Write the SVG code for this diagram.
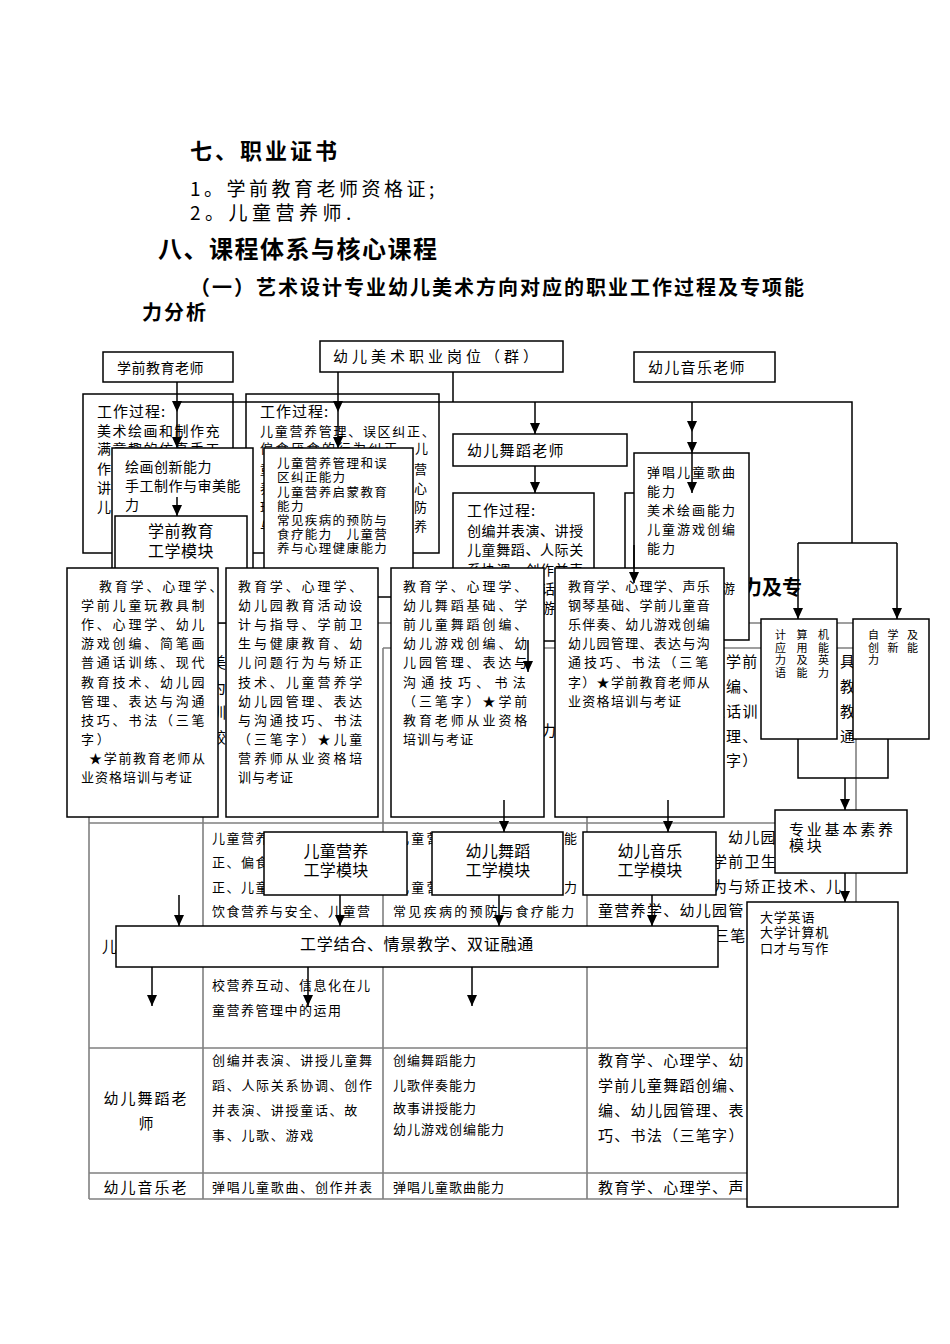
<svg xmlns="http://www.w3.org/2000/svg" width="950" height="1344" viewBox="0 0 950 1344">
<defs>
<style>
text{font-family:"Noto Sans CJK SC","Noto Sans CJK JP",sans-serif;fill:#000}
.h{font-weight:bold}
.b{fill:#fff;stroke:#000;stroke-width:1.5}
.tl{fill:none;stroke:#808080;stroke-width:1.6}
.c{fill:none;stroke:#000;stroke-width:1.5}
.a{marker-end:url(#ah)}
.d{marker-mid:url(#ah);marker-end:url(#ah)}
.f11{font-size:11px}
.f13{font-size:13px}
.f14{font-size:14px}
.f15{font-size:15px}
.f16{font-size:16px}
.m{text-anchor:middle}
</style>
<marker id="ah" markerUnits="userSpaceOnUse" markerWidth="10" markerHeight="11" viewBox="0 0 10 11" refX="5" refY="11" orient="0">
<path d="M0,0 L10,0 L5,11 z" fill="#000"/>
</marker>
</defs>
<rect width="950" height="1344" fill="#fff"/>

<g id="headings">
<text class="h" x="190" y="159" font-size="22" letter-spacing="3">七、职业证书</text>
<text x="190" y="196" font-size="19" letter-spacing="3.5">1。学前教育老师资格证;</text>
<text x="190" y="220" font-size="19" letter-spacing="4.5">2。儿童营养师.</text>
<text class="h" x="158" y="258" font-size="24" letter-spacing="1.5">八、课程体系与核心课程</text>
<text class="h" x="190" y="295" font-size="20" letter-spacing="2">（一）艺术设计专业幼儿美术方向对应的职业工作过程及专项能</text>
<text class="h" x="142" y="320" font-size="20" letter-spacing="2">力分析</text>
</g>

<g id="table">
<path class="tl" d="M89,623 H856 M383,648 H856 M89,823 H856 M89,1048 H856 M89,1173 H856 M89,1199 H856 M89,623 V1199 M203,648 V1199 M383,648 V1199 M587,648 V1199 M856,623 V1199"/>
<text class="h" x="742" y="595" font-size="20">力及专</text>
<g class="f15">
<text x="211" y="668">美</text><text x="211" y="693">为</text><text x="211" y="718">训</text><text x="211" y="743">较</text>
<text x="541" y="736">力</text>
<text x="726" y="667" letter-spacing="1.3">学前</text>
<text x="726" y="692" letter-spacing="1.3">编、</text>
<text x="710" y="717" letter-spacing="1.3">通话训</text>
<text x="726" y="742" letter-spacing="1.3">理、</text>
<text x="726" y="766" letter-spacing="1.3">字）</text>
<text x="840" y="667">具</text><text x="840" y="692">教</text><text x="840" y="717">教</text><text x="840" y="742">通</text>
<text x="102" y="952">儿</text>
</g>
<g class="f13" letter-spacing="1.5">
<text x="212" y="843">儿童营养</text>
<text x="212" y="867">正、偏食</text>
<text x="212" y="892">正、儿童营</text>
<text x="212" y="916">饮食营养与安全、儿童营</text>
<text x="212" y="990">校营养互动、信息化在儿</text>
<text x="212" y="1015">童营养管理中的运用</text>
</g>
<g class="f13" letter-spacing="2.3">
<text x="396" y="843">儿童营</text>
<text x="564" y="843">能</text>
<text x="396" y="892">儿童营</text>
<text x="564" y="892">力</text>
<text x="393" y="916">常见疾病的预防与食疗能力</text>
</g>
<g class="f15" letter-spacing="1.3">
<text x="728" y="843">幼儿园</text>
<text x="712" y="867">学前卫生</text>
<text x="712" y="892">为与矫正技术、儿</text>
<text x="598" y="916">童营养学、幼儿园管</text>
<text x="714" y="941">三笔</text>
</g>
<g class="f15">
<text class="m" x="146" y="1104" letter-spacing="2">幼儿舞蹈老</text>
<text class="m" x="146" y="1129">师</text>
<text class="m" x="146" y="1193" letter-spacing="2">幼儿音乐老</text>
</g>
<g class="f13" letter-spacing="1.7">
<text x="212" y="1065">创编并表演、讲授儿童舞</text>
<text x="212" y="1090">蹈、人际关系协调、创作</text>
<text x="212" y="1115">并表演、讲授童话、故</text>
<text x="212" y="1140">事、儿歌、游戏</text>
<text x="212" y="1192">弹唱儿童歌曲、创作并表</text>
</g>
<g class="f13" letter-spacing="1">
<text x="393" y="1065">创编舞蹈能力</text>
<text x="393" y="1090">儿歌伴奏能力</text>
<text x="393" y="1113">故事讲授能力</text>
<text x="393" y="1134">幼儿游戏创编能力</text>
<text x="393" y="1192">弹唱儿童歌曲能力</text>
</g>
<g class="f15" letter-spacing="1.3">
<text x="598" y="1066">教育学、心理学、幼</text>
<text x="598" y="1091">学前儿童舞蹈创编、</text>
<text x="598" y="1116">编、幼儿园管理、表</text>
<text x="598" y="1141">巧、书法（三笔字）</text>
<text x="598" y="1193">教育学、心理学、声</text>
</g>
</g>

<g id="n-xueqian-teacher">
<rect class="b" x="103" y="352" width="130" height="30"/>
<text class="f14" x="117" y="373" letter-spacing="0.5">学前教育老师</text>
</g>
<g id="n-job-group">
<rect class="b" x="320" y="341" width="243" height="31"/>
<text class="f15" x="333" y="362" letter-spacing="4">幼儿美术职业岗位（群）</text>
</g>
<g id="n-music-teacher">
<rect class="b" x="634" y="352" width="141" height="30"/>
<text class="f15" x="648" y="373" letter-spacing="1.3">幼儿音乐老师</text>
</g>

<g id="n-work-xueqian">
<rect class="b" x="83" y="394" width="150" height="159"/>
<text class="f15" x="97" y="417" letter-spacing="1">工作过程:</text>
<g class="f14" letter-spacing="1.5">
<text x="97" y="436">美术绘画和制作充</text>
<text x="97" y="454">满童趣的仿真手工</text>
<text x="97" y="474">作</text>
<text x="97" y="493">讲</text>
<text x="97" y="512">儿</text>
</g>
</g>
<g id="n-work-nutrition">
<rect class="b" x="246" y="394" width="193" height="159"/>
<text class="f15" x="260" y="417" letter-spacing="1">工作过程:</text>
<g class="f13">
<text x="260" y="436" letter-spacing="1.7">儿童营养管理、误区纠正、</text>
<text x="260" y="453" letter-spacing="2.5">偏食厌食的行为纠正、儿</text>
<text x="260" y="474">童</text><text x="260" y="493">养</text><text x="260" y="512">理</text><text x="260" y="531">与</text>
<text x="414" y="474">营</text><text x="414" y="493">心</text><text x="414" y="512">防</text><text x="414" y="531">养</text>
</g>
</g>
<g id="n-dance-teacher">
<rect class="b" x="453" y="434" width="174" height="32"/>
<text class="f15" x="467" y="456" letter-spacing="1.3">幼儿舞蹈老师</text>
</g>
<g id="n-work-dance">
<rect class="b" x="453" y="493" width="141" height="148"/>
<text class="f15" x="467" y="516" letter-spacing="1">工作过程:</text>
<g class="f14" letter-spacing="0.6">
<text x="467" y="536">创编并表演、讲授</text>
<text x="467" y="555">儿童舞蹈、人际关</text>
<text x="467" y="575">系协调、创作并表</text>
<text x="541" y="594">话</text>
<text x="541" y="613">游</text>
</g>
</g>
<g id="n-work-music">
<rect class="b" x="625" y="493" width="80" height="147"/>
</g>
<g id="n-music-ability">
<rect class="b" x="634" y="453" width="115" height="187"/>
<g class="f13" letter-spacing="2">
<text x="647" y="477">弹唱儿童歌曲</text>
<text x="647" y="496">能力</text>
<text x="647" y="515">美术绘画能力</text>
<text x="647" y="534">儿童游戏创编</text>
<text x="647" y="553">能力</text>
<text x="722" y="593">游</text>
</g>
</g>

<g id="n-ability-xueqian">
<rect class="b" x="112" y="448" width="141" height="149"/>
<g class="f14" letter-spacing="0.5">
<text x="125" y="472">绘画创新能力</text>
<text x="125" y="491">手工制作与审美能</text>
<text x="125" y="510">力</text>
</g>
</g>
<g id="n-ability-nutrition">
<rect class="b" x="264" y="448" width="149" height="149"/>
<g font-size="12.5" letter-spacing="1.4">
<text x="277" y="468">儿童营养管理和误</text>
<text x="277" y="482">区纠正能力</text>
<text x="277" y="497">儿童营养启蒙教育</text>
<text x="277" y="511">能力</text>
<text x="277" y="525">常见疾病的预防与</text>
<text x="277" y="539">食疗能力　儿童营</text>
<text x="277" y="553">养与心理健康能力</text>
</g>
</g>
<g id="n-module-xueqian">
<rect class="b" x="115" y="516" width="132" height="107"/>
<text class="f16 m" x="181" y="537" letter-spacing="0.5">学前教育</text>
<text class="f16 m" x="181" y="557" letter-spacing="0.5">工学模块</text>
</g>

<g id="n-course-a">
<rect class="b" x="67" y="568" width="151" height="249"/>
<g class="f13" letter-spacing="2.8">
<text x="99" y="591">教育学、心理学、</text>
<text x="81" y="610">学前儿童玩教具制</text>
<text x="81" y="629">作、心理学、幼儿</text>
<text x="81" y="648">游戏创编、简笔画</text>
<text x="81" y="667">普通话训练、现代</text>
<text x="81" y="687">教育技术、幼儿园</text>
<text x="81" y="706">管理、表达与沟通</text>
<text x="81" y="725">技巧、书法（三笔</text>
<text x="81" y="744">字）</text>
<text x="89" y="763" letter-spacing="1.7">★学前教育老师从</text>
<text x="81" y="782" letter-spacing="1">业资格培训与考证</text>
</g>
</g>
<g id="n-course-b">
<rect class="b" x="226" y="568" width="152" height="249"/>
<g class="f13" letter-spacing="2.9">
<text x="238" y="591">教育学、心理学、</text>
<text x="238" y="610">幼儿园教育活动设</text>
<text x="238" y="629">计与指导、学前卫</text>
<text x="238" y="648">生与健康教育、幼</text>
<text x="238" y="667">儿问题行为与矫正</text>
<text x="238" y="687">技术、儿童营养学</text>
<text x="238" y="706">幼儿园管理、表达</text>
<text x="238" y="725">与沟通技巧、书法</text>
<text x="238" y="744">（三笔字）★儿童</text>
<text x="238" y="763">营养师从业资格培</text>
<text x="238" y="782" letter-spacing="1">训与考证</text>
</g>
</g>
<g id="n-course-c">
<rect class="b" x="391" y="568" width="153" height="249"/>
<g class="f13" letter-spacing="2.9">
<text x="403" y="591">教育学、心理学、</text>
<text x="403" y="610">幼儿舞蹈基础、学</text>
<text x="403" y="629">前儿童舞蹈创编、</text>
<text x="403" y="648">幼儿游戏创编、幼</text>
<text x="403" y="667">儿园管理、表达与</text>
<text x="403" y="687" letter-spacing="5.3">沟通技巧、书法</text>
<text x="403" y="706">（三笔字）★学前</text>
<text x="403" y="725">教育老师从业资格</text>
<text x="403" y="744" letter-spacing="1.3">培训与考证</text>
</g>
</g>
<g id="n-course-d">
<rect class="b" x="555" y="568" width="169" height="249"/>
<g class="f13" letter-spacing="1.3">
<text x="568" y="591">教育学、心理学、声乐</text>
<text x="568" y="610">钢琴基础、学前儿童音</text>
<text x="568" y="629">乐伴奏、幼儿游戏创编</text>
<text x="568" y="648">幼儿园管理、表达与沟</text>
<text x="568" y="667" letter-spacing="2.9">通技巧、书法（三笔</text>
<text x="568" y="687">字）★学前教育老师从</text>
<text x="568" y="706">业资格培训与考证</text>
</g>
</g>

<g id="n-computer">
<rect class="b" x="761" y="619" width="76" height="120"/>
<g class="f11" letter-spacing="10.5">
<text x="775" y="639">计算机</text>
<text x="775" y="651.5">应用能</text>
<text x="775" y="664">力及英</text>
<text x="775" y="676.5">语能力</text>
</g>
</g>
<g id="n-selfstudy">
<rect class="b" x="853" y="619" width="76" height="120"/>
<g class="f11" letter-spacing="8.5">
<text x="868" y="639">自学及</text>
<text x="868" y="651.5">创新能</text>
<text x="868" y="664">力</text>
</g>
</g>
<g id="n-basic-module">
<rect class="b" x="775" y="810" width="132" height="63"/>
<text class="f15" x="789" y="835" letter-spacing="2.8">专业基本素养</text>
<text class="f15" x="789" y="851" letter-spacing="2.8">模块</text>
</g>
<g id="n-basic-courses">
<rect class="b" x="747" y="902" width="151" height="305"/>
<g class="f13" letter-spacing="0.8">
<text x="760" y="922">大学英语</text>
<text x="760" y="937">大学计算机</text>
<text x="760" y="953">口才与写作</text>
</g>
</g>

<g id="n-module-nutrition">
<rect class="b" x="264" y="832" width="143" height="63"/>
<text class="f16 m" x="336" y="857" letter-spacing="0.3">儿童营养</text>
<text class="f16 m" x="336" y="876" letter-spacing="0.3">工学模块</text>
</g>
<g id="n-module-dance">
<rect class="b" x="432" y="832" width="131" height="63"/>
<text class="f16 m" x="498" y="857" letter-spacing="0.3">幼儿舞蹈</text>
<text class="f16 m" x="498" y="876" letter-spacing="0.3">工学模块</text>
</g>
<g id="n-module-music">
<rect class="b" x="583" y="832" width="133" height="63"/>
<text class="f16 m" x="650" y="857" letter-spacing="0.3">幼儿音乐</text>
<text class="f16 m" x="650" y="876" letter-spacing="0.3">工学模块</text>
</g>
<g id="n-bar">
<rect class="b" x="116" y="926" width="602" height="41"/>
<text class="f16 m" x="417" y="950" letter-spacing="0.7">工学结合、情景教学、双证融通</text>
</g>

<g id="connectors">
<path class="c" d="M453,372 V402 M178,402 H852 V543 M798,543 H897 M798,739 V778 H888 V739"/>
<path class="c a" d="M798,543 V619"/>
<path class="c a" d="M897,543 V619"/>
<path class="c d" d="M177,382 V412 V448"/>
<path class="c d" d="M338,372 V412 V448"/>
<path class="c a" d="M535,402 V434"/>
<path class="c a" d="M535,466 V493"/>
<path class="c d" d="M692,402 V432 V453"/>
<path class="c a" d="M692,453 V493"/>
<path class="c a" d="M177,497 V516"/>
<path class="c a" d="M634,545 V583"/>
<path class="c a" d="M528,640 V672"/>
<path class="c a" d="M504,800 V832"/>
<path class="c a" d="M668,800 V832"/>
<path class="c a" d="M845,778 V810"/>
<path class="c a" d="M845,873 V902"/>
<path class="c a" d="M179,895 V926"/>
<path class="c a" d="M340,895 V926"/>
<path class="c a" d="M499,895 V926"/>
<path class="c a" d="M652,895 V926"/>
<path class="c a" d="M152,967 V1006"/>
<path class="c a" d="M308,967 V1006"/>
<path class="c a" d="M472,967 V1006"/>
</g>
</svg>
